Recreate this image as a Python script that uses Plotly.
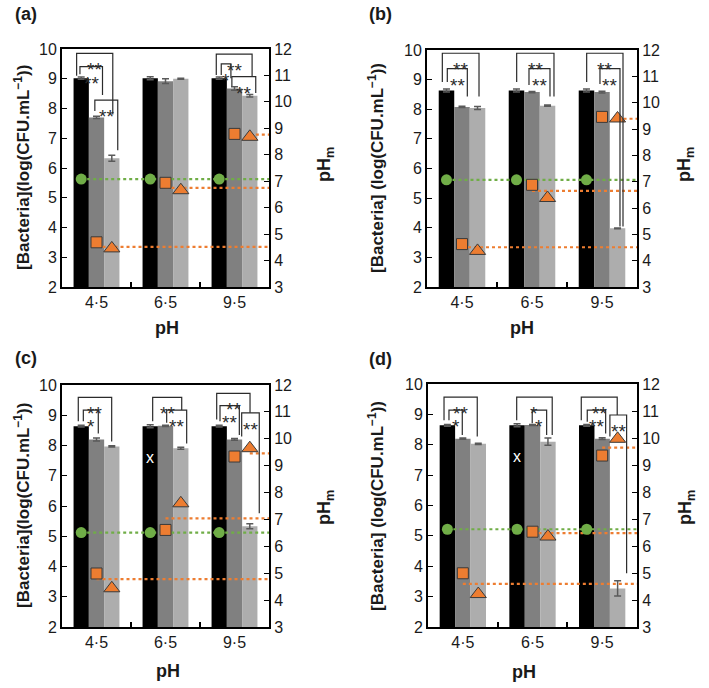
import plotly.graph_objects as go

# ---------------- data ----------------
CATEGORIES = ["4·5", "6·5", "9·5"]
PANEL_LABELS = ["(a)", "(b)", "(c)", "(d)"]
Y_TITLES = ["[Bacteria](log(CFU.mL<sup>−1</sup>))", "[Bacteria] (log(CFU.mL<sup>−1</sup>))",
            "[Bacteria](log(CFU.mL<sup>−1</sup>))", "[Bacteria] (log(CFU.mL<sup>−1</sup>))"]

# bacteria (log CFU/mL) per pH for the three bar series
a_black = [9.02, 9.02, 9.02]; a_black_err = [0.04, 0.05, 0.04]
a_dark = [7.70, 8.92, 8.67];  a_dark_err = [0.04, 0.08, 0.06]
a_light = [6.33, 9.00, 8.43]; a_light_err = [0.10, 0.02, 0.04]

b_black = [8.63, 8.63, 8.63]; b_black_err = [0.05, 0.05, 0.05]
b_dark = [8.08, 8.58, 8.58];  b_dark_err = [0.02, 0.02, 0.03]
b_light = [8.04, 8.12, 3.98]; b_light_err = [0.05, 0.02, 0.01]

c_black = [8.64, 8.64, 8.64]; c_black_err = [0.03, 0.05, 0.03]
c_dark = [8.20, 8.65, 8.20];  c_dark_err = [0.05, 0.02, 0.03]
c_light = [7.97, 7.91, 5.33]; c_light_err = [0.02, 0.03, 0.08]

d_black = [8.64, 8.64, 8.64]; d_black_err = [0.03, 0.05, 0.03]
d_dark = [8.20, 8.65, 8.20];  d_dark_err = [0.02, 0.02, 0.03]
d_light = [8.03, 8.10, 3.27]; d_light_err = [0.02, 0.12, 0.25]

# pHm values (right axis)
a_green = [7.08, 7.08, 7.08]; a_square = [4.69, 6.94, 8.79]; a_triangle = [4.46, 6.66, 8.68]; a_level = [4.52, 6.75, 8.76]
b_green = [7.07, 7.07, 7.07]; b_square = [4.63, 6.88, 9.46]; b_triangle = [4.37, 6.38, 9.40]; b_level = [4.51, 6.65, 9.39]
c_green = [6.51, 6.51, 6.51]; c_square = [4.99, 6.61, 9.34]; c_triangle = [4.44, 7.60, 9.65]; c_level = [4.78, 7.04, 9.46]
d_green = [6.62, 6.62, 6.62]; d_square = [4.99, 6.53, 9.35]; d_triangle = [4.22, 6.35, 9.97]; d_level = [4.60, 6.48, 9.64]

# series where each orange level line starts (1 = square series, 2 = triangle series)
a_level_from = [1, 1, 2]
b_level_from = [1, 1, 2]
c_level_from = [1, 1, 2]
d_level_from = [1, 1, 1]

# significance brackets: (x_left, x_right, y_top, y_left_end, y_right_end, label)
a_sig = [(-0.288, 0.236, 9.85, 9.10, 7.80, "**"), (-0.240, 0.087, 9.41, 9.15, 8.45, "**"),
         (-0.024, 0.308, 8.28, 7.92, 6.60, "**"),
         (1.736, 2.255, 9.83, 9.13, 9.07, "**"), (1.808, 1.948, 9.50, 9.13, 9.02, "*"),
         (1.962, 2.308, 9.07, 8.75, 8.52, "**")]
b_sig = [(-0.281, 0.243, 9.89, 8.92, 8.43, "**"), (-0.210, 0.076, 9.37, 8.92, 8.43, "**"),
         (0.781, 1.314, 9.89, 8.92, 8.43, "**"), (0.957, 1.257, 9.37, 8.82, 8.43, "**"),
         (1.781, 2.300, 9.89, 8.92, 4.04, "**"), (1.971, 2.257, 9.37, 8.85, 4.04, "**")]
c_sig = [(-0.264, 0.220, 9.59, 8.80, 8.13, "**"), (-0.191, 0.026, 9.17, 8.80, 8.40, "*"),
         (0.814, 1.235, 9.59, 8.80, 9.17, "**"), (1.017, 1.307, 9.17, 8.75, 8.07, "**"),
         (1.742, 2.225, 9.72, 8.86, 9.08, "**"), (1.790, 2.070, 9.32, 8.80, 8.35, "**"),
         (2.104, 2.359, 9.08, 8.30, 5.76, "**")]
d_sig = [(-0.270, 0.207, 9.57, 8.81, 8.27, "**"), (-0.199, -0.008, 9.14, 8.81, 8.32, "*"),
         (0.773, 1.283, 9.57, 8.81, 8.32, "*"), (0.996, 1.203, 9.14, 8.71, 8.32, "*"),
         (1.700, 2.216, 9.57, 8.81, 8.98, "**"), (1.786, 2.050, 9.14, 8.76, 8.37, "**"),
         (2.111, 2.351, 8.98, 8.27, 3.77, "**")]

# "x" marks on bars: (category index, y)
c_marks = [(1, 7.6)]
d_marks = [(1, 7.6)]

panels = [
    dict(bars=[(a_black, a_black_err), (a_dark, a_dark_err), (a_light, a_light_err)],
         green=a_green, square=a_square, triangle=a_triangle, level=a_level, level_from=a_level_from,
         sig=a_sig, marks=[]),
    dict(bars=[(b_black, b_black_err), (b_dark, b_dark_err), (b_light, b_light_err)],
         green=b_green, square=b_square, triangle=b_triangle, level=b_level, level_from=b_level_from,
         sig=b_sig, marks=[]),
    dict(bars=[(c_black, c_black_err), (c_dark, c_dark_err), (c_light, c_light_err)],
         green=c_green, square=c_square, triangle=c_triangle, level=c_level, level_from=c_level_from,
         sig=c_sig, marks=c_marks),
    dict(bars=[(d_black, d_black_err), (d_dark, d_dark_err), (d_light, d_light_err)],
         green=d_green, square=d_square, triangle=d_triangle, level=d_level, level_from=d_level_from,
         sig=d_sig, marks=d_marks),
]

# ---------------- layout / style ----------------
W, H = 709, 688
FONT = "Liberation Sans, Arial, sans-serif"
BAR_COLORS = ["#000000", "#808080", "#adadad"]
ORANGE = "#ed7d31"
GREEN = "#70ad47"
BARGAP = 0.335
BW = (1 - BARGAP) / 3  # width of one bar in category units

# plot areas in pixels: (left, right, top, bottom)
AREAS = [(62, 269, 49, 287), (427, 637, 50, 287), (62, 269, 385, 627), (428, 637, 384, 627)]
PANEL_LABEL_POS = [(13, 14), (367, 14), (13, 358), (367, 359)]
YTITLE_POS = [(22, 168), (376, 168), (22, 506), (376, 506)]
Y2TITLE_POS = [(325, 165), (685, 165), (325, 508), (686, 508)]
XTITLE_POS = [(167, 328), (522, 328), (168, 671), (524, 672)]


def px(x):
    return x / W


def py(y):
    return 1 - y / H


fig = go.Figure()
layout = dict(width=W, height=H, margin=dict(l=0, r=0, t=0, b=0), template="none",
              paper_bgcolor="white", plot_bgcolor="white", showlegend=False,
              barmode="group", bargap=BARGAP, bargroupgap=0,
              font=dict(family=FONT, color="#1a1a1a", size=16))
shapes, annotations = [], []

for k, p in enumerate(panels):
    xa = "x" if k == 0 else f"x{k + 1}"
    ya = "y" if k == 0 else f"y{2 * k + 1}"
    ya2 = f"y{2 * k + 2}"
    l, r, t, b = AREAS[k]
    xkey = "xaxis" if k == 0 else f"xaxis{k + 1}"
    ykey = "yaxis" if k == 0 else f"yaxis{2 * k + 1}"
    y2key = f"yaxis{2 * k + 2}"
    layout[xkey] = dict(domain=[px(l), px(r)], anchor=ya, range=[-0.5, 2.5], tickvals=[0, 1, 2],
                        ticktext=CATEGORIES, ticks="", showline=True, mirror=True, linecolor="black",
                        linewidth=2, showgrid=False, zeroline=False, tickfont=dict(size=16),
                        minor=dict(tickvals=[0.5, 1.5], ticks="inside", ticklen=5, tickwidth=1.5,
                                   tickcolor="black", showgrid=False))
    layout[ykey] = dict(domain=[py(b), py(t)], anchor=xa, range=[2, 10], dtick=1, tick0=0,
                        ticks="inside", ticklen=5, tickwidth=1.3, tickcolor="black", showline=True,
                        linecolor="black", linewidth=2, showgrid=False, zeroline=False,
                        tickfont=dict(size=16))
    layout[y2key] = dict(overlaying=ya, side="right", anchor=xa, range=[3, 12], dtick=1, tick0=0,
                         ticks="inside", ticklen=5, tickwidth=1.3, tickcolor="black", showline=True,
                         linecolor="black", linewidth=2, showgrid=False, zeroline=False,
                         tickfont=dict(size=16))

    xs = [0, 1, 2]
    for s, (vals, errs) in enumerate(p["bars"]):
        fig.add_trace(go.Bar(x=xs, y=vals, xaxis=xa, yaxis=ya, marker=dict(color=BAR_COLORS[s], line=dict(width=0)),
                             error_y=dict(type="data", array=errs, color="#5a5a5a", thickness=1.5, width=3.5),
                             offsetgroup=str(s)))

    centers = [[i + (s - 1) * BW for i in xs] for s in range(3)]
    # green reference line
    fig.add_trace(go.Scatter(x=[centers[0][0], 2.5], y=[p["green"][0], p["green"][0]], xaxis=xa, yaxis=ya2,
                             mode="lines", line=dict(color=GREEN, width=2.2, dash="dot")))
    # orange level lines
    for i in range(3):
        x0 = centers[p["level_from"][i]][i]
        fig.add_trace(go.Scatter(x=[x0, 2.5], y=[p["level"][i], p["level"][i]], xaxis=xa, yaxis=ya2,
                                 mode="lines", line=dict(color=ORANGE, width=2.2, dash="dot")))
    fig.add_trace(go.Scatter(x=centers[0], y=p["green"], xaxis=xa, yaxis=ya2, mode="markers",
                             marker=dict(symbol="circle", size=11, color=GREEN)))
    fig.add_trace(go.Scatter(x=centers[1], y=p["square"], xaxis=xa, yaxis=ya2, mode="markers",
                             marker=dict(symbol="square", size=11, color=ORANGE,
                                         line=dict(color="#3a3a3a", width=1))))
    fig.add_trace(go.Scatter(x=centers[2], y=p["triangle"], xaxis=xa, yaxis=ya2, mode="markers",
                             marker=dict(symbol="triangle-up", size=14, color=ORANGE,
                                         line=dict(color="#3a3a3a", width=1))))

    for (xl, xr, yt, ylb, yrb, lab) in p["sig"]:
        shapes.append(dict(type="path", xref=xa, yref=ya,
                           path=f"M {xl},{ylb} L {xl},{yt} L {xr},{yt} L {xr},{yrb}",
                           line=dict(color="#2b2b2b", width=1.2)))
        annotations.append(dict(x=(xl + xr) / 2, y=yt, xref=xa, yref=ya, text=lab, showarrow=False,
                                xanchor="center", yanchor="top", yshift=-5, borderpad=0,
                                font=dict(size=19, color="#2b2b2b")))
    for (ci, yv) in p["marks"]:
        annotations.append(dict(x=centers[0][ci], y=yv, xref=xa, yref=ya, text="x", showarrow=False,
                                font=dict(size=16, color="white")))

    # titles and panel labels
    lx, ly = PANEL_LABEL_POS[k]
    annotations.append(dict(x=px(lx), y=py(ly), xref="paper", yref="paper", text=f"<b>{PANEL_LABELS[k]}</b>",
                            showarrow=False, xanchor="left", yanchor="middle", font=dict(size=18)))
    tx, ty = YTITLE_POS[k]
    annotations.append(dict(x=px(tx), y=py(ty), xref="paper", yref="paper", text=f"<b>{Y_TITLES[k]}</b>",
                            showarrow=False, textangle=-90, xanchor="center", yanchor="middle",
                            font=dict(size=17)))
    tx, ty = Y2TITLE_POS[k]
    annotations.append(dict(x=px(tx), y=py(ty), xref="paper", yref="paper", text="<b>pH<sub>m</sub></b>",
                            showarrow=False, textangle=-90, xanchor="center", yanchor="middle",
                            font=dict(size=18)))
    tx, ty = XTITLE_POS[k]
    annotations.append(dict(x=px(tx), y=py(ty), xref="paper", yref="paper", text="<b>pH</b>",
                            showarrow=False, xanchor="center", yanchor="middle", font=dict(size=18)))

layout["shapes"] = shapes
layout["annotations"] = annotations
fig.update_layout(**layout)
fig.write_html("out.html", config={"displayModeBar": False},
               post_script="document.body.style.margin='0px';document.body.style.overflow='hidden';")
